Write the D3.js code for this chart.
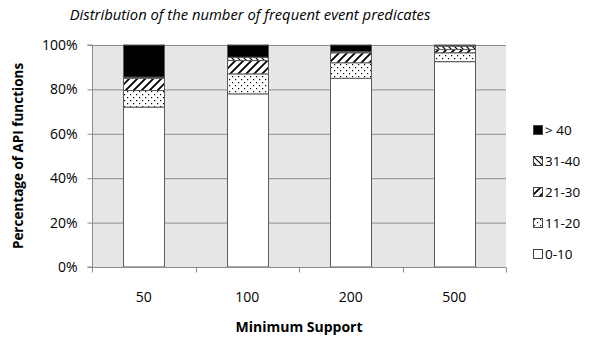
<!DOCTYPE html>
<html>
<head>
<meta charset="utf-8">
<script src="https://cdn.jsdelivr.net/npm/d3@7"></script>
<style>
  body { margin: 0; background: #fff; }
  svg { display: block; }
  text { font-family: "Open Sans", "Liberation Sans", sans-serif; fill: #000; }
</style>
</head>
<body>
<svg id="chart" width="613" height="341"></svg>
<script>
// Minimum support levels on the x axis
const supports = ["50", "100", "200", "500"];
// Stack groups, bottom to top
const groups = ["0-10", "11-20", "21-30", "31-40", "> 40"];
// Percentage of API functions in each group, per support level
const share0to10 = [72, 78, 85, 92.5];
const share11to20 = [7.5, 9, 7, 4];
const share21to30 = [5.5, 6, 4.5, 1.5];
const share31to40 = [0.5, 1.5, 0.5, 1.5];
const shareOver40 = [14.5, 5.5, 3, 0.5];
const yTicks = [0, 20, 40, 60, 80, 100];

const seriesValues = [share0to10, share11to20, share21to30, share31to40, shareOver40];
const rows = supports.map((s, i) => {
  const r = { support: s };
  groups.forEach((g, k) => { r[g] = seriesValues[k][i]; });
  return r;
});

const svg = d3.select("#chart");
const margin = { left: 92, right: 107, top: 45, bottom: 74 };
const W = 613, H = 341;
const x = d3.scaleBand().domain(supports).range([margin.left, W - margin.right]).paddingInner(0.6).paddingOuter(0.3);
const y = d3.scaleLinear().domain([0, 100]).range([H - margin.bottom, margin.top]);

// Fill patterns
const defs = svg.append("defs");
const dots = defs.append("pattern").attr("id", "p-dots").attr("patternUnits", "userSpaceOnUse")
  .attr("width", 6).attr("height", 6);
dots.append("rect").attr("width", 6).attr("height", 6).attr("fill", "#fff");
dots.append("rect").attr("x", 1).attr("y", 1).attr("width", 1.2).attr("height", 1.2).attr("fill", "#000");
dots.append("rect").attr("x", 4).attr("y", 4).attr("width", 1.2).attr("height", 1.2).attr("fill", "#000");

const up = defs.append("pattern").attr("id", "p-up").attr("patternUnits", "userSpaceOnUse")
  .attr("width", 8).attr("height", 8);
up.append("rect").attr("width", 8).attr("height", 8).attr("fill", "#fff");
up.append("path").attr("d", "M-2,10 L10,-2 M-2,2 L2,-2 M6,10 L10,6").attr("stroke", "#000").attr("stroke-width", 1.8);

const down = defs.append("pattern").attr("id", "p-down").attr("patternUnits", "userSpaceOnUse")
  .attr("width", 6).attr("height", 6);
down.append("rect").attr("width", 6).attr("height", 6).attr("fill", "#fff");
down.append("path").attr("d", "M-1,-1 L7,7 M-1,5 L1,7 M5,-1 L7,1").attr("stroke", "#000").attr("stroke-width", 1.2);

const fills = { "0-10": "#fff", "11-20": "url(#p-dots)", "21-30": "url(#p-up)", "31-40": "url(#p-down)", "> 40": "#000" };

// Plot background and gridlines
svg.append("rect").attr("x", margin.left).attr("y", margin.top)
  .attr("width", W - margin.right - margin.left).attr("height", H - margin.bottom - margin.top)
  .attr("fill", "#e6e6e6");
svg.append("g").selectAll("line").data(yTicks).join("line")
  .attr("x1", margin.left).attr("x2", W - margin.right)
  .attr("y1", d => y(d) + 0.5).attr("y2", d => y(d) + 0.5)
  .attr("stroke", "#8c8c8c").attr("stroke-width", 1);

// Stacked bars
const stack = d3.stack().keys(groups)(rows);
svg.append("g").selectAll("g").data(stack).join("g")
  .attr("fill", d => fills[d.key])
  .selectAll("rect").data(d => d).join("rect")
  .attr("x", d => Math.round(x(d.data.support)) + 0.5)
  .attr("width", Math.round(x.bandwidth()))
  .attr("y", d => y(d[1]))
  .attr("height", d => y(d[0]) - y(d[1]))
  .attr("stroke", "#5a5a5a").attr("stroke-width", 1);

// Y axis
const yAxis = d3.axisLeft(y).tickValues(yTicks).tickFormat(d => d + "%").tickSize(5).tickPadding(10);
const gy = svg.append("g").attr("transform", `translate(${margin.left + 0.5},0)`).call(yAxis);
gy.select(".domain").attr("stroke", "#8c8c8c").attr("d", `M-5,${y(100)}H0V${y(0)}H-5`);
gy.selectAll(".tick line").attr("stroke", "#8c8c8c");
gy.selectAll("text").attr("font-size", 14).attr("font-family", "Open Sans, sans-serif").attr("fill", "#000");

// X axis with ticks at category boundaries
const gx = svg.append("g").attr("transform", `translate(0,${y(0) + 0.5})`);
gx.append("line").attr("x1", margin.left).attr("x2", W - margin.right).attr("stroke", "#8c8c8c");
const bounds = d3.range(supports.length + 1).map(i => margin.left + (W - margin.right - margin.left) * i / supports.length);
gx.selectAll(".bt").data(bounds).join("line").attr("class", "bt")
  .attr("x1", d => Math.round(d) + 0.5).attr("x2", d => Math.round(d) + 0.5).attr("y1", 0).attr("y2", 5)
  .attr("stroke", "#8c8c8c");
gx.selectAll("text").data(supports).join("text")
  .attr("x", d => x(d) + x.bandwidth() / 2).attr("y", 34)
  .attr("text-anchor", "middle").attr("font-size", 14).text(d => d);

// Titles
svg.append("text").attr("x", 250).attr("y", 20).attr("text-anchor", "middle")
  .attr("font-size", 14.8).attr("font-style", "italic").text("Distribution of the number of frequent event predicates");
svg.append("text").attr("x", 299).attr("y", 332).attr("text-anchor", "middle")
  .attr("font-size", 14).attr("font-weight", "bold").text("Minimum Support");
svg.append("text").attr("transform", "translate(23,156) rotate(-90)").attr("text-anchor", "middle")
  .attr("font-size", 13.5).attr("font-weight", "bold").text("Percentage of API functions");

// Legend, top group first
const legend = svg.append("g").selectAll("g").data(groups.slice().reverse()).join("g")
  .attr("transform", (d, i) => `translate(533,${125 + i * 31})`);
legend.append("rect").attr("x", 0.5).attr("y", 0.5).attr("width", 9).attr("height", 9)
  .attr("fill", d => fills[d]).attr("stroke", "#444");
legend.append("text").attr("x", 12).attr("y", 10).attr("font-size", 13.5).text(d => d);
</script>
</body>
</html>
